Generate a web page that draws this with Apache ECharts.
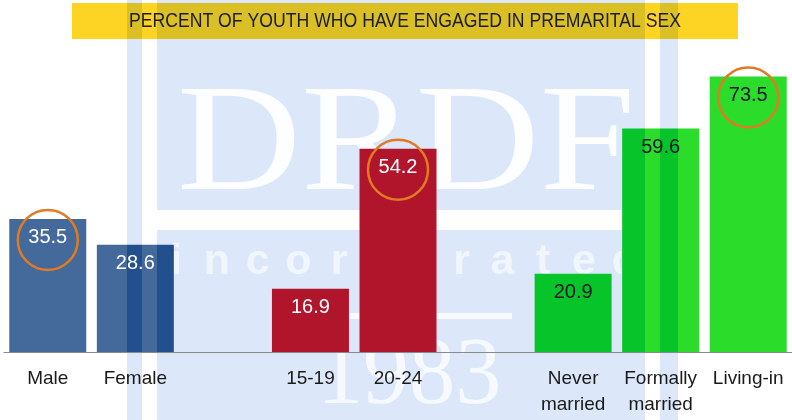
<!DOCTYPE html>
<html>
<head>
<meta charset="utf-8">
<script src="https://cdn.jsdelivr.net/npm/echarts@6/dist/echarts.min.js"></script>
<style>
  html, body { margin: 0; padding: 0; background: #fff; }
  #chart { width: 792px; height: 420px; }
</style>
</head>
<body>
<div id="chart"></div>
<script>
// data
var categories = ['Male', 'Female', '', '15-19', '20-24', ' ', 'Never\nmarried', 'Formally\nmarried', 'Living-in'];
var values = [35.5, 28.6, null, 16.9, 54.2, null, 20.9, 59.6, 73.5];
var groups = ['sex', 'sex', null, 'age', 'age', null, 'status', 'status', 'status'];
var circled = ['Male', '20-24', 'Living-in'];
var titleText = 'PERCENT OF YOUTH WHO HAVE ENGAGED IN PREMARITAL SEX';

var sans = '"Liberation Sans", Arial, sans-serif';
// plain colour, and colour where the watermark panel lies over the bar
var groupColor = { sex: ['#44699b', '#22508f'], age: ['#cf1e2d', '#b0152b'], status: ['#2bdc2b', '#06c42a'] };
var groupLabel = { sex: '#ffffff', age: '#ffffff', status: '#111827' };

// watermark panel: vertical strips of light blue (x from, x to)
var panel = '#dce8fa';
var panelStrips = [[127, 142], [157, 645], [660, 678]];
var barWidth = 77;

// horizontal gradient that darkens the parts of a bar lying under the watermark strips
function tinted(cols, x0, x1) {
    var stops = [], w = x1 - x0, pos = 0;
    function add(a, b, c) {
        stops.push({ offset: a, color: c }, { offset: b, color: c });
    }
    panelStrips.forEach(function (s) {
        var a = Math.max(0, (s[0] - x0) / w), b = Math.min(1, (s[1] - x0) / w);
        if (b <= a) return;
        if (a > pos) add(pos, a, cols[0]);
        add(a, b, cols[1]);
        pos = b;
    });
    if (pos < 1) add(pos, 1, cols[0]);
    return new echarts.graphic.LinearGradient(0, 0, 1, 0, stops);
}

window.onload = function () {
    var myChart = echarts.init(document.getElementById('chart'));

    var labelData = values.map(function (v, i) {
        return { value: v, label: { color: groups[i] ? groupLabel[groups[i]] : '#000' } };
    });
    var circles = circled.map(function (c) {
        var i = categories.indexOf(c);
        return { coord: [i, values[i]] };
    });

    var wm = [];
    // title box (under the watermark)
    wm.push({ type: 'rect', z: 0, silent: true, shape: { x: 72, y: 3, width: 666, height: 36 }, style: { fill: '#fdd324' } });
    // panel pieces, gaps are the white frame lines
    [[127, 0, 15, 420], [157, 0, 488, 210], [157, 230, 488, 190], [660, 0, 18, 420]].forEach(function (r) {
        wm.push({ type: 'rect', z: 1, silent: true, shape: { x: r[0], y: r[1], width: r[2], height: r[3] }, style: { fill: panel, blend: 'multiply' } });
    });
    wm.push({ type: 'rect', z: 1, z2: 5, silent: true, shape: { x: 290, y: 313, width: 222, height: 6 }, style: { fill: '#ffffff', opacity: 0.8 } });
    // lettering
    var wmText = { fill: '#ffffff', textVerticalAlign: 'middle', verticalAlign: 'middle' };
    wm.push({ type: 'text', z: 1, z2: 10, silent: true, x: 177, scaleX: 1.13,
        style: Object.assign({ text: 'DRDF', x: 0, y: 149, font: '152px "Liberation Serif"', opacity: 0.92, textAlign: 'left' }, wmText) });
    'incorporated'.split('').forEach(function (ch, k) {
        wm.push({ type: 'text', z: 1, z2: 10, silent: true,
            style: Object.assign({ text: ch, x: 176 + k * 40.8, y: 262, font: 'bold 43px "Liberation Sans"', opacity: 0.6, textAlign: 'center' }, wmText) });
    });
    wm.push({ type: 'text', z: 1, z2: 10, silent: true, x: 317, scaleX: 0.96,
        style: Object.assign({ text: '1983', x: 0, y: 378, font: '96px "Liberation Serif"', opacity: 0.75, textAlign: 'left' }, wmText) });
    // title text on top
    wm.push({ type: 'text', z: 5, silent: true, x: 405, scaleX: 0.84,
        style: { text: titleText, x: 0, y: 21, font: '21px ' + sans, fill: '#1b1b2b', textAlign: 'center', textVerticalAlign: 'middle', verticalAlign: 'middle' } });

    var option = {
        backgroundColor: '#ffffff',
        animation: false,
        graphic: { elements: wm },
        grid: { left: 4, width: 793, top: 52, bottom: 68, containLabel: false },
        xAxis: {
            type: 'category',
            data: categories,
            z: 3,
            axisTick: { show: false },
            axisLine: { lineStyle: { color: '#8a8a8a', width: 1 } },
            axisLabel: { interval: 0, margin: 14, color: '#1a1a1a', fontFamily: sans, fontSize: 19, lineHeight: 26 }
        },
        yAxis: { type: 'value', min: 0, max: 80, show: false, splitLine: { show: false } },
        series: [
            {
                type: 'bar',
                data: values.map(function (v, i) {
                    return { value: v, itemStyle: { color: groups[i] ? groupColor[groups[i]][0] : 'transparent' } };
                }),
                barWidth: barWidth,
                z: 2,
                silent: true,
                itemStyle: { shadowColor: 'rgba(0,0,0,0.4)', shadowBlur: 3, shadowOffsetX: 2, shadowOffsetY: 1 }
            },
            {
                type: 'bar',
                data: labelData,
                barWidth: barWidth,
                barGap: '-100%',
                z: 4,
                silent: true,
                itemStyle: { color: 'transparent' },
                label: { show: true, position: 'insideTop', distance: 9, fontFamily: sans, fontSize: 20, formatter: '{c}' },
                markPoint: {
                    symbol: 'circle',
                    symbolSize: 60,
                    symbolOffset: [0, 21],
                    silent: true,
                    label: { show: false },
                    itemStyle: { color: 'transparent', borderColor: '#e07b24', borderWidth: 2.5 },
                    data: circles
                }
            }
        ]
    };
    myChart.setOption(option);

    // now that the axis is laid out, shade each bar where the watermark strips cross it
    var shaded = values.map(function (v, i) {
        if (!groups[i]) return { value: v };
        var cx = myChart.convertToPixel({ xAxisIndex: 0 }, i);
        return { value: v, itemStyle: { color: tinted(groupColor[groups[i]], cx - barWidth / 2, cx + barWidth / 2) } };
    });
    myChart.setOption({ series: [{ data: shaded }] });
};
</script>
</body>
</html>
